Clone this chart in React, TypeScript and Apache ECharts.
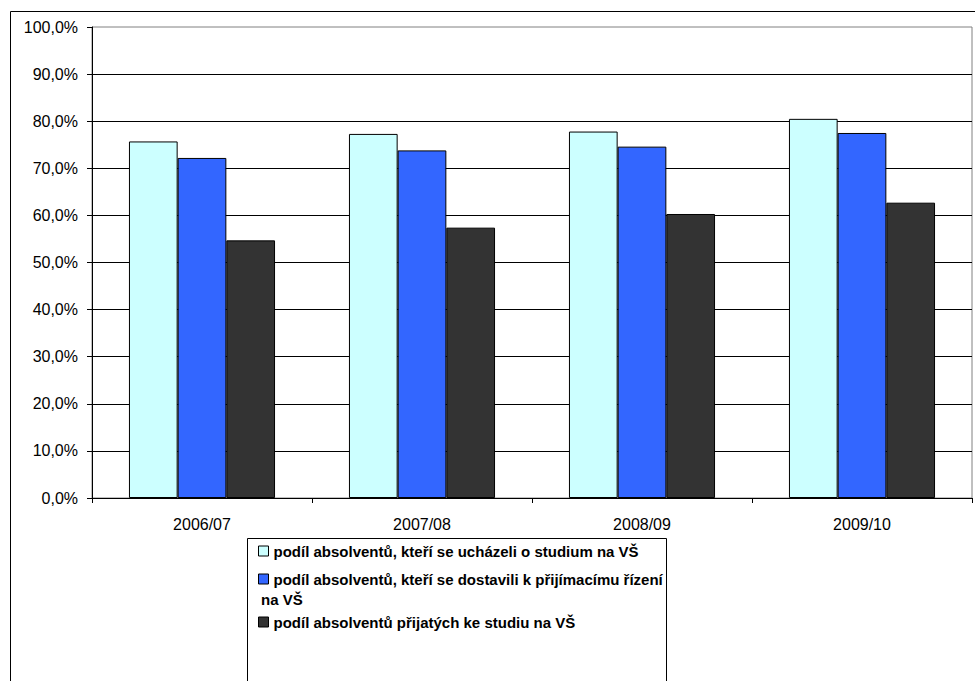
import React, { useEffect, useRef } from "react";
import * as echarts from "echarts";

const categories = ["2006/07", "2007/08", "2008/09", "2009/10"];
const seriesNames = [
  "podíl absolventů, kteří se ucházeli o studium na VŠ",
  "podíl absolventů, kteří se dostavili k přijímacímu řízení na VŠ",
  "podíl absolventů přijatých ke studiu na VŠ",
];
const applied = [75.7, 77.3, 77.8, 80.5];
const attended = [72.2, 73.8, 74.6, 77.5];
const admitted = [54.7, 57.4, 60.3, 62.7];
const colors = ["#CCFFFF", "#3366FF", "#333333"];

const FONT = "'Liberation Sans', Arial, sans-serif";

export default function App() {
  const ref = useRef<HTMLDivElement>(null);
  useEffect(() => {
    if (!ref.current) return;
    const chart = echarts.init(ref.current, null, { renderer: "svg" });
    const values = [applied, attended, admitted];
    const legendTops = [543, 571, 614];
    chart.setOption({
      animation: false,
      backgroundColor: "#fff",
      textStyle: { fontFamily: FONT },
      grid: {
        left: 92,
        right: 3,
        top: 27,
        bottom: 183,
        show: true,
        borderColor: "#808080",
        borderWidth: 1,
        backgroundColor: "transparent",
      },
      xAxis: {
        type: "category",
        data: categories,
        axisLine: { lineStyle: { color: "#000", width: 1 } },
        axisTick: { show: true, length: 5, lineStyle: { color: "#000" } },
        axisLabel: { color: "#000", fontSize: 16, fontFamily: FONT, margin: 18 },
      },
      yAxis: {
        type: "value",
        min: 0,
        max: 100,
        interval: 10,
        axisLine: { show: true, lineStyle: { color: "#000", width: 1 } },
        axisTick: { show: true, length: 5, lineStyle: { color: "#000" } },
        axisLabel: {
          color: "#000",
          fontSize: 16,
          fontFamily: FONT,
          margin: 14,
          formatter: (v: number) => v.toFixed(1).replace(".", ",") + "%",
        },
        splitLine: { show: true, showMaxLine: false, lineStyle: { color: "#000", width: 1 } },
      },
      legend: seriesNames.map((n, i) => ({
        data: [n],
        left: 258,
        top: legendTops[i],
        padding: 0,
        itemWidth: 10,
        itemHeight: 10,
        icon: "rect",
        itemStyle: { borderColor: "#000", borderWidth: 1 },
        textStyle: {
          fontFamily: FONT,
          fontSize: 15,
          fontWeight: "bold",
          color: "#000",
          lineHeight: 16,
        },
        formatter: (name: string) =>
          i === 1 ? "podíl absolventů, kteří se dostavili k přijímacímu řízení" : name,
        selectedMode: false,
      })),
      graphic: [
        {
          type: "rect",
          shape: { x: 10.5, y: 11.5, width: 1000, height: 1000 },
          style: { fill: "none", stroke: "#000", lineWidth: 1 },
          silent: true,
        },
        {
          type: "rect",
          shape: { x: 247.5, y: 538.5, width: 419, height: 300 },
          style: { fill: "none", stroke: "#000", lineWidth: 1 },
          silent: true,
        },
        {
          type: "text",
          x: 261,
          y: 599,
          style: {
            text: "na VŠ",
            fontFamily: FONT,
            fontSize: 15,
            fontWeight: "bold",
            fill: "#000",
            verticalAlign: "middle",
          },
        },
      ],
      series: seriesNames.map((n, i) => ({
        name: n,
        type: "bar",
        data: values[i],
        barGap: "0%",
        barCategoryGap: "33.6%",
        itemStyle: { color: colors[i], borderColor: "#000", borderWidth: 1 },
      })),
    });
    return () => chart.dispose();
  }, []);
  return (
    <div
      ref={ref}
      style={{ position: "fixed", left: 0, top: 0, width: 975, height: 681 }}
    />
  );
}
